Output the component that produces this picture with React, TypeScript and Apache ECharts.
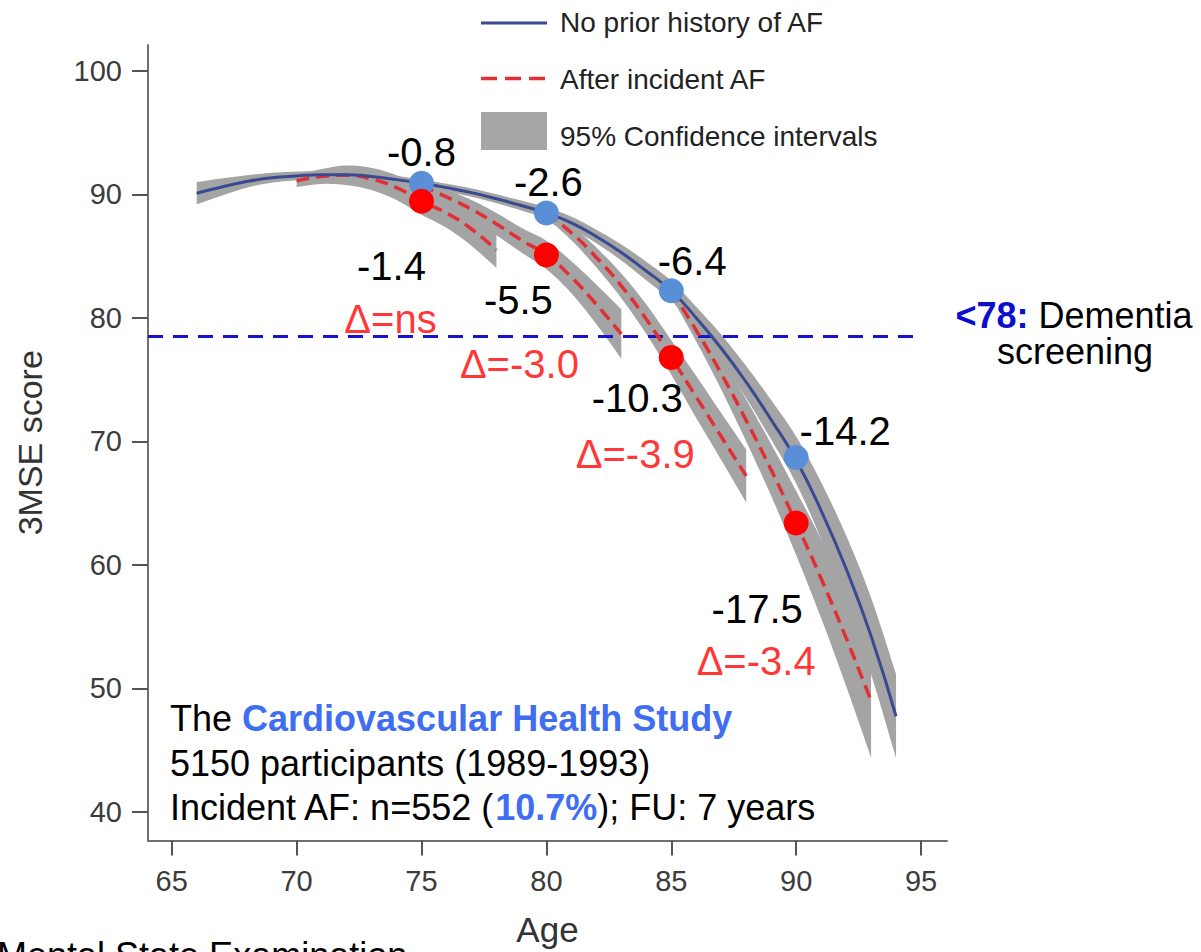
import React, { useEffect, useRef } from "react";
import * as echarts from "echarts";

const FONT = "'Liberation Sans', Arial, Helvetica, sans-serif";

// axes
const xMin = 64.05;
const xMax = 96.04;
const yMin = 37.69;
const yMax = 102.1;
const xTicks = [65, 70, 75, 80, 85, 90, 95];
const yTicks = [40, 50, 60, 70, 80, 90, 100];

// No prior history of AF (blue)
const noAfAges = [66, 67, 68, 69, 70, 71, 72, 73, 74, 75, 76, 77, 78, 79, 80, 81, 82, 83, 84, 85, 86, 87, 88, 89, 90, 91, 92, 93, 94];
const noAfScore = [90.1, 90.6, 91.05, 91.35, 91.5, 91.6, 91.6, 91.45, 91.2, 90.9, 90.55, 90.15, 89.65, 89.1, 88.5, 87.7, 86.6, 85.3, 83.8, 82.2, 80.0, 77.55, 74.8, 71.75, 68.5, 64.4, 59.7, 54.25, 47.75];
const noAfHalfCI = [0.9, 0.7, 0.5, 0.4, 0.35, 0.3, 0.3, 0.3, 0.3, 0.3, 0.32, 0.34, 0.36, 0.4, 0.45, 0.5, 0.55, 0.65, 0.75, 0.8, 0.9, 1.1, 1.3, 1.6, 1.9, 2.3, 2.7, 3.1, 3.4];

// After incident AF (red dashed), one trajectory per onset age
const af70Ages = [70, 71, 72, 73, 74, 75, 76, 77, 78];
const af70Score = [91.1, 91.45, 91.55, 91.25, 90.55, 89.45, 88.5, 87.2, 85.5];
const af70HalfCI = [0.5, 0.6, 0.8, 0.9, 1.0, 1.1, 1.2, 1.35, 1.45];

const af75Ages = [75, 76, 77, 78, 79, 80, 81, 82, 83];
const af75Score = [90.7, 89.8, 88.8, 87.6, 86.3, 85.1, 83.3, 81.1, 78.7];
const af75HalfCI = [0.4, 0.6, 0.75, 0.9, 1.0, 1.15, 1.3, 1.6, 2.0];

const af80Ages = [80, 81, 82, 83, 84, 85, 86, 87, 88];
const af80Score = [88.5, 86.9, 84.9, 82.6, 79.9, 76.8, 73.6, 70.4, 67.2];
const af80HalfCI = [0.4, 0.6, 0.8, 1.0, 1.2, 1.4, 1.7, 1.9, 2.15];

const af85Ages = [85, 86, 87, 88, 89, 90, 91, 92, 93];
const af85Score = [82.2, 79.0, 75.5, 71.7, 67.7, 63.4, 58.9, 54.1, 49.0];
const af85HalfCI = [0.5, 0.9, 1.3, 1.7, 2.1, 2.6, 3.2, 3.9, 4.6];

// highlighted points
const dotAges = [75, 80, 85, 90];
const noAfDots = [90.9, 88.5, 82.2, 68.7];
const afDots = [89.45, 85.1, 76.8, 63.4];
const noAfChangeLabels = ["-0.8", "-2.6", "-6.4", "-14.2"];
const afChangeLabels = ["-1.4", "-5.5", "-10.3", "-17.5"];
const deltaLabels = ["Δ=ns", "Δ=-3.0", "Δ=-3.9", "Δ=-3.4"];

// dementia screening threshold line
const dementiaLevel = 78.5;
const dementiaAges = [xMin, 95];

// label placement (style only)
const blueLabelOffsets = [[0, -31], [2, -31], [21, -30], [49, -27]];
const redLabelOffsets = [[-30, 65], [-28, 45], [-34, 41], [-39, 86]];
const deltaOffsets = [[-31, 118], [-27, 109], [-36, 97], [-40, 138]];

const BAND = "#a4a4a4";
const BLUE_LINE = "#394a93";
const RED_LINE = "#df3035";

function zip(xs: number[], ys: number[]) {
  return xs.map((x, i) => [x, ys[i]]);
}

// Catmull-Rom sampling in pixel space (rendering only)
function smoothPts(p: number[][], steps = 8): number[][] {
  if (p.length < 3) return p;
  const out: number[][] = [];
  for (let i = 0; i < p.length - 1; i++) {
    const p0 = p[Math.max(0, i - 1)];
    const p1 = p[i];
    const p2 = p[i + 1];
    const p3 = p[Math.min(p.length - 1, i + 2)];
    for (let s = 0; s < steps; s++) {
      const t = s / steps;
      const t2 = t * t;
      const t3 = t2 * t;
      const f = (a: number, b: number, c: number, d: number) =>
        0.5 * (2 * b + (-a + c) * t + (2 * a - 5 * b + 4 * c - d) * t2 + (-a + 3 * b - 3 * c + d) * t3);
      out.push([f(p0[0], p1[0], p2[0], p3[0]), f(p0[1], p1[1], p2[1], p3[1])]);
    }
  }
  out.push(p[p.length - 1]);
  return out;
}

function bandSeries(name: string, xs: number[], c: number[], h: number[]) {
  const rows = xs.map((x, i) => [x, c[i] - h[i], c[i] + h[i]]);
  return {
    type: "custom",
    name,
    data: rows,
    silent: true,
    z: 1,
    encode: { x: 0, y: [1, 2] },
    renderItem: (params: any, api: any) => {
      if (params.dataIndex !== 0) return null;
      const up = rows.map((r) => api.coord([r[0], r[2]]));
      const lo = rows.map((r) => api.coord([r[0], r[1]]));
      const pts = smoothPts(up).concat(smoothPts(lo).reverse());
      return { type: "polygon", shape: { points: pts }, style: { fill: BAND, stroke: null } };
    },
  };
}

function redLine(xs: number[], ys: number[]) {
  return {
    type: "line",
    name: "After incident AF",
    data: zip(xs, ys),
    smooth: true,
    symbol: "none",
    silent: true,
    z: 3,
    lineStyle: { color: RED_LINE, width: 3.5, type: [13, 7] },
  };
}

export default function App() {
  const ref = useRef<HTMLDivElement>(null);

  useEffect(() => {
    const chart = echarts.init(ref.current!, null, { renderer: "svg" });

    const series: any[] = [
      bandSeries("95% CI no AF", noAfAges, noAfScore, noAfHalfCI),
      bandSeries("95% CI AF at 70", af70Ages, af70Score, af70HalfCI),
      bandSeries("95% CI AF at 75", af75Ages, af75Score, af75HalfCI),
      bandSeries("95% CI AF at 80", af80Ages, af80Score, af80HalfCI),
      bandSeries("95% CI AF at 85", af85Ages, af85Score, af85HalfCI),
      {
        type: "line",
        name: "Dementia screening",
        data: dementiaAges.map((x) => [x, dementiaLevel]),
        symbol: "none",
        silent: true,
        z: 2,
        lineStyle: { color: "#1414cf", width: 3, type: [15, 10] },
      },
      redLine(af70Ages, af70Score),
      redLine(af75Ages, af75Score),
      redLine(af80Ages, af80Score),
      redLine(af85Ages, af85Score),
      {
        type: "line",
        name: "No prior history of AF",
        data: zip(noAfAges, noAfScore),
        smooth: true,
        symbol: "none",
        silent: true,
        z: 4,
        lineStyle: { color: BLUE_LINE, width: 3 },
      },
      {
        type: "scatter",
        name: "No AF points",
        z: 6,
        symbolSize: 25,
        itemStyle: { color: "#5a8ed6", opacity: 1 },
        data: dotAges.map((x, i) => ({
          value: [x, noAfDots[i]],
          label: { offset: blueLabelOffsets[i] },
        })),
        label: {
          show: true,
          position: "inside",
          formatter: (p: any) => noAfChangeLabels[p.dataIndex],
          color: "#000",
          fontSize: 40,
          fontFamily: FONT,
        },
      },
      {
        type: "scatter",
        name: "AF points",
        z: 6,
        symbolSize: 25,
        itemStyle: { color: "#ff0000", opacity: 1 },
        data: dotAges.map((x, i) => ({
          value: [x, afDots[i]],
          label: { offset: redLabelOffsets[i] },
        })),
        label: {
          show: true,
          position: "inside",
          formatter: (p: any) => afChangeLabels[p.dataIndex],
          color: "#000",
          fontSize: 40,
          fontFamily: FONT,
        },
      },
      {
        type: "scatter",
        name: "Differences",
        z: 6,
        symbolSize: 1,
        itemStyle: { color: "rgba(0,0,0,0)" },
        data: dotAges.map((x, i) => ({
          value: [x, afDots[i]],
          label: { offset: deltaOffsets[i] },
        })),
        label: {
          show: true,
          position: "inside",
          formatter: (p: any) => deltaLabels[p.dataIndex],
          color: "#ff0000",
          fontSize: 40,
          fontFamily: FONT,
        },
      },
    ];

    const option: any = {
      animation: false,
      backgroundColor: "#ffffff",
      grid: { left: 148, right: 254, top: 45, bottom: 110, containLabel: false },
      xAxis: {
        type: "value",
        min: xMin,
        max: xMax,
        name: "Age",
        nameLocation: "middle",
        nameGap: 89,
        nameTextStyle: { fontSize: 35, fontFamily: FONT, color: "#333", verticalAlign: "middle", align: "center" },
        axisLine: { show: true, onZero: false, lineStyle: { color: "#707070", width: 2 } },
        axisTick: { show: true, length: 15, customValues: xTicks, lineStyle: { color: "#555", width: 2 } },
        axisLabel: { customValues: xTicks, margin: 26, fontSize: 29, fontFamily: FONT, color: "#3c3c3c" },
        splitLine: { show: false },
      },
      yAxis: {
        type: "value",
        min: yMin,
        max: yMax,
        name: "3MSE score",
        nameLocation: "middle",
        nameRotate: 90,
        nameGap: 118,
        nameTextStyle: { fontSize: 34, fontFamily: FONT, color: "#333", verticalAlign: "middle", align: "center" },
        axisLine: { show: true, onZero: false, lineStyle: { color: "#707070", width: 2 } },
        axisTick: { show: true, length: 16, customValues: yTicks, lineStyle: { color: "#555", width: 2 } },
        axisLabel: { customValues: yTicks, margin: 26, fontSize: 29, fontFamily: FONT, color: "#3c3c3c" },
        splitLine: { show: false },
      },
      series,
      graphic: [
        // legend
        { type: "line", shape: { x1: 481, y1: 23, x2: 547, y2: 23 }, style: { stroke: BLUE_LINE, lineWidth: 3 } },
        { type: "text", x: 560, y: 22.5, style: { text: "No prior history of AF", fontSize: 28, fontFamily: FONT, fill: "#222", align: "left", verticalAlign: "middle" } },
        { type: "line", shape: { x1: 481, y1: 78.5, x2: 547, y2: 78.5 }, style: { stroke: RED_LINE, lineWidth: 3.5, lineDash: [16, 8] } },
        { type: "text", x: 560, y: 79, style: { text: "After incident AF", fontSize: 28, fontFamily: FONT, fill: "#222", align: "left", verticalAlign: "middle" } },
        { type: "rect", shape: { x: 481, y: 112, width: 66, height: 38 }, style: { fill: "#a6a6a6", stroke: null } },
        { type: "text", x: 560, y: 136.5, style: { text: "95% Confidence intervals", fontSize: 28, fontFamily: FONT, fill: "#222", align: "left", verticalAlign: "middle" } },
        // dementia note
        {
          type: "text",
          x: 1074,
          y: 315,
          style: {
            text: "{b|<78:} Dementia",
            fontSize: 36,
            fontFamily: FONT,
            fill: "#000",
            align: "center",
            verticalAlign: "middle",
            rich: { b: { fontSize: 36, fontFamily: FONT, fontWeight: "bold", fill: "#0d0dcc" } },
          },
        },
        { type: "text", x: 1075, y: 351, style: { text: "screening", fontSize: 36, fontFamily: FONT, fill: "#000", align: "center", verticalAlign: "middle" } },
        // study box
        {
          type: "text",
          x: 170,
          y: 718,
          style: {
            text: "The {b|Cardiovascular Health Study}",
            fontSize: 36,
            fontFamily: FONT,
            fill: "#000",
            align: "left",
            verticalAlign: "middle",
            rich: { b: { fontSize: 36, fontFamily: FONT, fontWeight: "bold", fill: "#3f6ff0" } },
          },
        },
        { type: "text", x: 170, y: 763, style: { text: "5150 participants (1989-1993)", fontSize: 36, fontFamily: FONT, fill: "#000", align: "left", verticalAlign: "middle" } },
        {
          type: "text",
          x: 170,
          y: 807,
          style: {
            text: "Incident AF: n=552 ({b|10.7%}); FU: 7 years",
            fontSize: 36,
            fontFamily: FONT,
            fill: "#000",
            align: "left",
            verticalAlign: "middle",
            rich: { b: { fontSize: 36, fontFamily: FONT, fontWeight: "bold", fill: "#3f6ff0" } },
          },
        },
        // footnote (cut off at bottom, as in the source)
        { type: "text", x: -3, y: 955, style: { text: "Mental State Examination", fontSize: 36, fontFamily: FONT, fill: "#000", align: "left", verticalAlign: "middle" } },
      ],
    };

    chart.setOption(option);
    return () => chart.dispose();
  }, []);

  return (
    <div
      ref={ref}
      style={{ position: "fixed", left: 0, top: 0, width: 1201, height: 952, background: "#fff" }}
    />
  );
}
